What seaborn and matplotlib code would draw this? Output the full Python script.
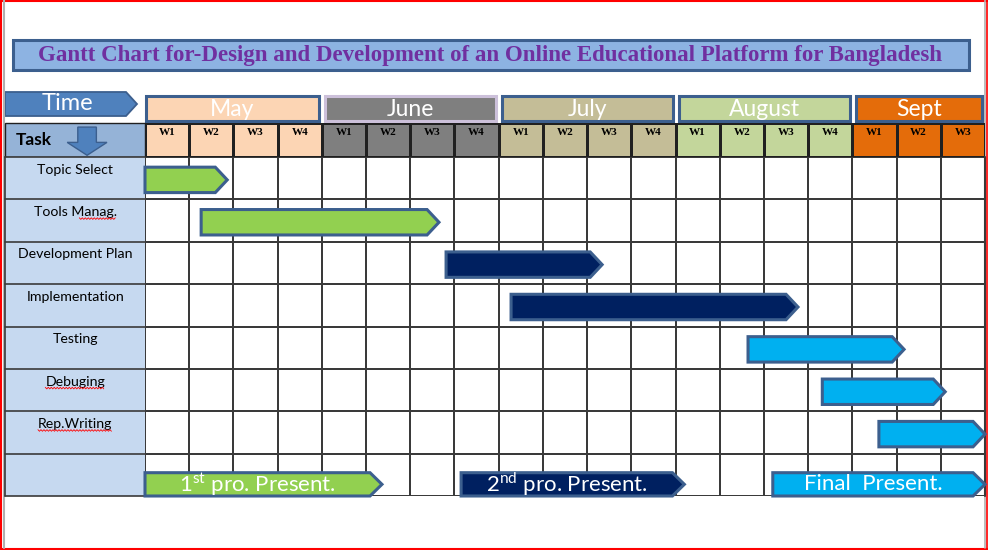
import numpy as np
import pandas as pd
import seaborn as sns
import matplotlib.pyplot as plt
from matplotlib.colors import ListedColormap
from matplotlib.patches import Polygon, Rectangle
from matplotlib.lines import Line2D

# ---- data ----
months = ['May', 'June', 'July', 'August', 'Sept']
month_weeks = [4, 4, 4, 4, 3]
month_colors = ['#fcd5b4', '#7f7f7f', '#c4bd97', '#c3d69b', '#e46c0a']

tasks = ['Topic Select', 'Tools Manag.', 'Development Plan', 'Implementation',
         'Testing', 'Debuging', 'Rep.Writing']
task_start = [0.0, 1.27, 6.81, 8.28, 13.64, 15.32, 16.6]
task_end = [1.86, 6.65, 10.34, 14.77, 17.17, 18.1, 19.0]
task_colors = ['#92d050', '#92d050', '#002060', '#002060',
               '#00b0f0', '#00b0f0', '#00b0f0']

milestones = ['1$^{\\mathrm{st}}$ pro. Present.', '2$^{\\mathrm{nd}}$ pro. Present.', 'Final  Present.']
ms_start = [0.0, 7.15, 14.2]
ms_end = [5.36, 12.2, 19.0]
ms_colors = ['#92d050', '#002060', '#00b0f0']

title = 'Gantt Chart for-Design and Development of an Online Educational Platform for Bangladesh'

# ---- style ----
sns.set_theme(style='white')
plt.rcParams['font.family'] = ['Lato', 'DejaVu Sans']
plt.rcParams['mathtext.fontset'] = 'custom'
plt.rcParams['mathtext.rm'] = 'Lato'

W, H = 988, 550
edge = '#3c5f8e'
tip = 0.27

fig = plt.figure(figsize=(W / 100, H / 100), dpi=100)


def px_axes(x0, y0, x1, y1):
    return fig.add_axes([x0 / W, (H - y1) / H, (x1 - x0) / W, (y1 - y0) / H])


# background layer in pixel coords (title, time arrow, frame)
bg = fig.add_axes([0, 0, 1, 1])
bg.set_xlim(0, W)
bg.set_ylim(H, 0)
bg.axis('off')
bg.add_patch(Rectangle((13, 40), 956, 30, fc='#8db3e2', ec=edge, lw=2.2))
bg.text(490, 55.5, title, ha='center', va='center', fontsize=16.5, fontweight='bold',
        family='Liberation Serif', color='#7030a0')
bg.add_patch(Polygon([(5, 92), (126, 92), (137, 104), (126, 116), (5, 116)],
                     fc='#4f81bd', ec=edge, lw=1.3))
bg.text(67, 104, 'Time', ha='center', va='center', fontsize=17, color='white')
# frame
bg.plot([0, W], [1, 1], color='red', lw=1.5, clip_on=False)
bg.plot([1, 1], [0, H], color='red', lw=1.5, clip_on=False)
bg.plot([0, W], [548.5, 548.5], color='red', lw=1.5, clip_on=False)
bg.plot([987, 987], [0, H], color='red', lw=1.2, clip_on=False)
bg.plot([3.5, 3.5], [0, 548], color='#b0b0b0', lw=1.5, clip_on=False)
bg.plot([984.5, 984.5], [0, 548], color='#b0b0b0', lw=1.2, clip_on=False)

# month boxes
n_weeks = sum(month_weeks)
ax_m = px_axes(145, 95, 985, 122)
ax_m.set_xlim(0, n_weeks)
ax_m.set_ylim(1, 0)
ax_m.axis('off')
cum = np.concatenate([[0], np.cumsum(month_weeks)])
for i, m in enumerate(months):
    s = cum[i] + (0.08 if i > 0 else 0.02)
    e = cum[i + 1] - 0.06
    ec = '#ccc0da' if m == 'June' else edge
    ax_m.add_patch(Rectangle((s, 0.05), e - s, 0.9, fc=month_colors[i], ec=ec, lw=2.2,
                             clip_on=False))
    ax_m.text((s + e) / 2, 0.55, m, ha='center', va='center', fontsize=16.5, color='white')

# week header row
week_idx = np.repeat(np.arange(len(months)), month_weeks)[None, :]
week_lab = np.array([['W%d' % (k + 1) for n in month_weeks for k in range(n)]])
ax_w = px_axes(145, 123, 985, 157)
sns.heatmap(week_idx, ax=ax_w, cmap=ListedColormap(month_colors), vmin=-0.5,
            vmax=len(months) - 0.5, cbar=False, linewidths=1.0, linecolor='#202020',
            xticklabels=False, yticklabels=False, annot=week_lab, fmt='',
            annot_kws={'fontsize': 8, 'fontweight': 'bold', 'family': 'Liberation Serif',
                       'color': 'black'})
for t in ax_w.texts:
    t.set_y(0.27)
ax_w.add_patch(Rectangle((-3.17, 0), 3.17, 1, fc='#95b3d7', ec='#202020', lw=1.0,
                         clip_on=False))
ax_w.text(-2.93, 0.5, 'Task', ha='left', va='center', fontsize=12.5, fontweight='bold',
          color='black')
# down arrow in task header (week units)
ax_w.add_patch(Polygon([(-1.52, 0.12), (-1.1, 0.12), (-1.1, 0.57), (-0.86, 0.57),
                        (-1.31, 0.95), (-1.76, 0.57), (-1.52, 0.57)],
                       fc='#4f81bd', ec=edge, lw=1.0, clip_on=False))

# body grid
n_rows = len(tasks) + 1
ax_b = px_axes(145, 157, 985, 496)
sns.heatmap(np.zeros((n_rows, n_weeks)), ax=ax_b, cmap=ListedColormap(['white']),
            cbar=False, linewidths=1.2, linecolor='#3a3a3a',
            xticklabels=False, yticklabels=False)
ax_b.add_patch(Rectangle((-3.17, 0), 3.17, n_rows, fc='#c6d9f0', ec='none',
                         clip_on=False, zorder=0.5))
for r in range(n_rows + 1):
    ax_b.plot([-3.17, 0], [r, r], color='#3a3a3a', lw=1.2, clip_on=False)
ax_b.plot([-3.17, -3.17], [0, n_rows], color='#3a3a3a', lw=1.2, clip_on=False)
ax_b.plot([n_weeks, n_weeks], [0, n_rows], color='#3a3a3a', lw=1.5, clip_on=False)


def arrow_bar(ax, s, e, y0, y1, color):
    mid = (y0 + y1) / 2
    ax.add_patch(Polygon([(s, y0), (e - tip, y0), (e, mid), (e - tip, y1), (s, y1)],
                         fc=color, ec=edge, lw=2.2, joinstyle='miter', clip_on=False,
                         zorder=3))


labels = []
for i, name in enumerate(tasks):
    arrow_bar(ax_b, task_start[i], task_end[i], i + 0.24, i + 0.84, task_colors[i])
    labels.append(ax_b.text(-1.58, i + 0.3, name, ha='center', va='center', fontsize=10.2,
                            color='black', clip_on=False))

row = len(tasks)
for i, name in enumerate(milestones):
    arrow_bar(ax_b, ms_start[i], ms_end[i], row + 0.45, row + 1.0, ms_colors[i])
    ax_b.text((ms_start[i] + ms_end[i] - tip) / 2, row + 0.72, name, ha='center',
              va='center', fontsize=16, color='white', zorder=4)

# spell-check squiggles
fig.canvas.draw()
rend = fig.canvas.get_renderer()
for t, frac in [(labels[1], 0.55), (labels[5], 0.0), (labels[6], 0.0)]:
    bb = t.get_window_extent(rend)
    xs = np.arange(bb.x0 + frac * bb.width, bb.x1, 1.5)
    ys = bb.y0 - 0.5 + np.where(np.arange(len(xs)) % 2 == 0, 0.8, -0.8)
    fig.add_artist(Line2D(xs, ys, color='red', lw=0.6, transform=None))

plt.savefig('out.png', dpi=100)
